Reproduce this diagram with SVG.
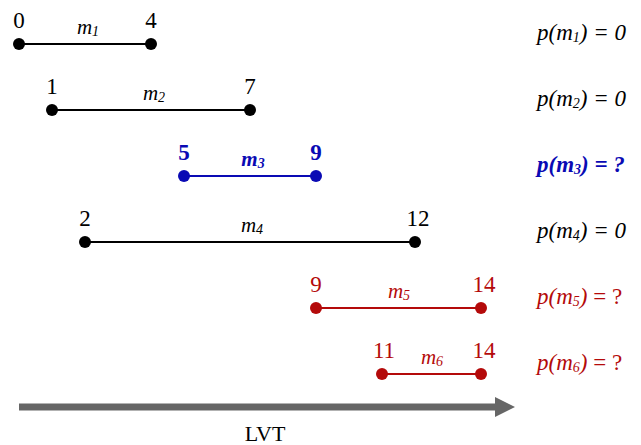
<svg xmlns="http://www.w3.org/2000/svg" width="641" height="445" viewBox="0 0 641 445">
<style>
text{font-family:"Liberation Serif","Times New Roman",serif;}
.n{font-size:23px;text-anchor:middle;}
.m{font-size:21px;font-style:italic;text-anchor:middle;}
.p{font-size:23px;font-style:italic;}
.u{font-style:normal;}
.s{font-size:14px;}
.k{fill:#000;}
.b{fill:#0a0ab4;font-weight:bold;}
.r{fill:#b40a0a;}
.lk{stroke:#000;stroke-width:2;}
.lb{stroke:#0a0ab4;stroke-width:2;}
.lr{stroke:#b40a0a;stroke-width:2;}
</style>
<g id="connectors">
<line class="lk" x1="19" y1="44" x2="151" y2="44"/>
<line class="lk" x1="52" y1="110" x2="250" y2="110"/>
<line class="lb" x1="184" y1="176" x2="316" y2="176"/>
<line class="lk" x1="85" y1="242" x2="415" y2="242"/>
<line class="lr" x1="316" y1="308" x2="481" y2="308"/>
<line class="lr" x1="382" y1="374" x2="481" y2="374"/>
</g>
<g id="m1">
<circle class="k" cx="19" cy="44" r="6"/><circle class="k" cx="151" cy="44" r="6"/>
<text class="n k" x="19" y="28">0</text><text class="n k" x="151" y="28">4</text>
<text class="m k" x="88" y="34">m<tspan class="s" dy="2">1</tspan></text>
<text class="p k" x="537" y="40">p(m<tspan class="s" dy="2">1</tspan><tspan dy="-2">) = 0</tspan></text>
</g>
<g id="m2">
<circle class="k" cx="52" cy="110" r="6"/><circle class="k" cx="250" cy="110" r="6"/>
<text class="n k" x="52" y="94">1</text><text class="n k" x="250" y="94">7</text>
<text class="m k" x="154" y="100">m<tspan class="s" dy="2">2</tspan></text>
<text class="p k" x="537" y="106">p(m<tspan class="s" dy="2">2</tspan><tspan dy="-2">) = 0</tspan></text>
</g>
<g id="m3">
<circle class="b" cx="184" cy="176" r="6"/><circle class="b" cx="316" cy="176" r="6"/>
<text class="n b" x="184" y="160">5</text><text class="n b" x="316" y="160">9</text>
<text class="m b" x="253" y="166">m<tspan class="s" dy="2">3</tspan></text>
<text class="p b" x="537" y="172">p(m<tspan class="s" dy="2">3</tspan><tspan dy="-2">) = ?</tspan></text>
</g>
<g id="m4">
<circle class="k" cx="85" cy="242" r="6"/><circle class="k" cx="415" cy="242" r="6"/>
<text class="n k" x="85" y="226">2</text><text class="n k" x="418" y="226">12</text>
<text class="m k" x="252" y="232">m<tspan class="s" dy="2">4</tspan></text>
<text class="p k" x="537" y="238">p(m<tspan class="s" dy="2">4</tspan><tspan dy="-2">) = 0</tspan></text>
</g>
<g id="m5">
<circle class="r" cx="316" cy="308" r="6"/><circle class="r" cx="481" cy="308" r="6"/>
<text class="n r" x="316" y="292">9</text><text class="n r" x="484" y="292">14</text>
<text class="m r" x="399" y="298">m<tspan class="s" dy="2">5</tspan></text>
<text class="p r" x="537" y="304">p(m<tspan class="s" dy="2">5</tspan><tspan dy="-2">)</tspan><tspan class="u"> = ?</tspan></text>
</g>
<g id="m6">
<circle class="r" cx="382" cy="374" r="6"/><circle class="r" cx="481" cy="374" r="6"/>
<text class="n r" x="384" y="358">11</text><text class="n r" x="484" y="358">14</text>
<text class="m r" x="432" y="364">m<tspan class="s" dy="2">6</tspan></text>
<text class="p r" x="537" y="370">p(m<tspan class="s" dy="2">6</tspan><tspan dy="-2">)</tspan><tspan class="u"> = ?</tspan></text>
</g>
<g id="axis">
<line x1="19" y1="407" x2="497" y2="407" stroke="#666" stroke-width="7"/>
<polygon points="495,397 515,407 495,417" fill="#666"/>
<text x="265" y="441" font-size="22" text-anchor="middle" fill="#000">LVT</text>
</g>
</svg>
